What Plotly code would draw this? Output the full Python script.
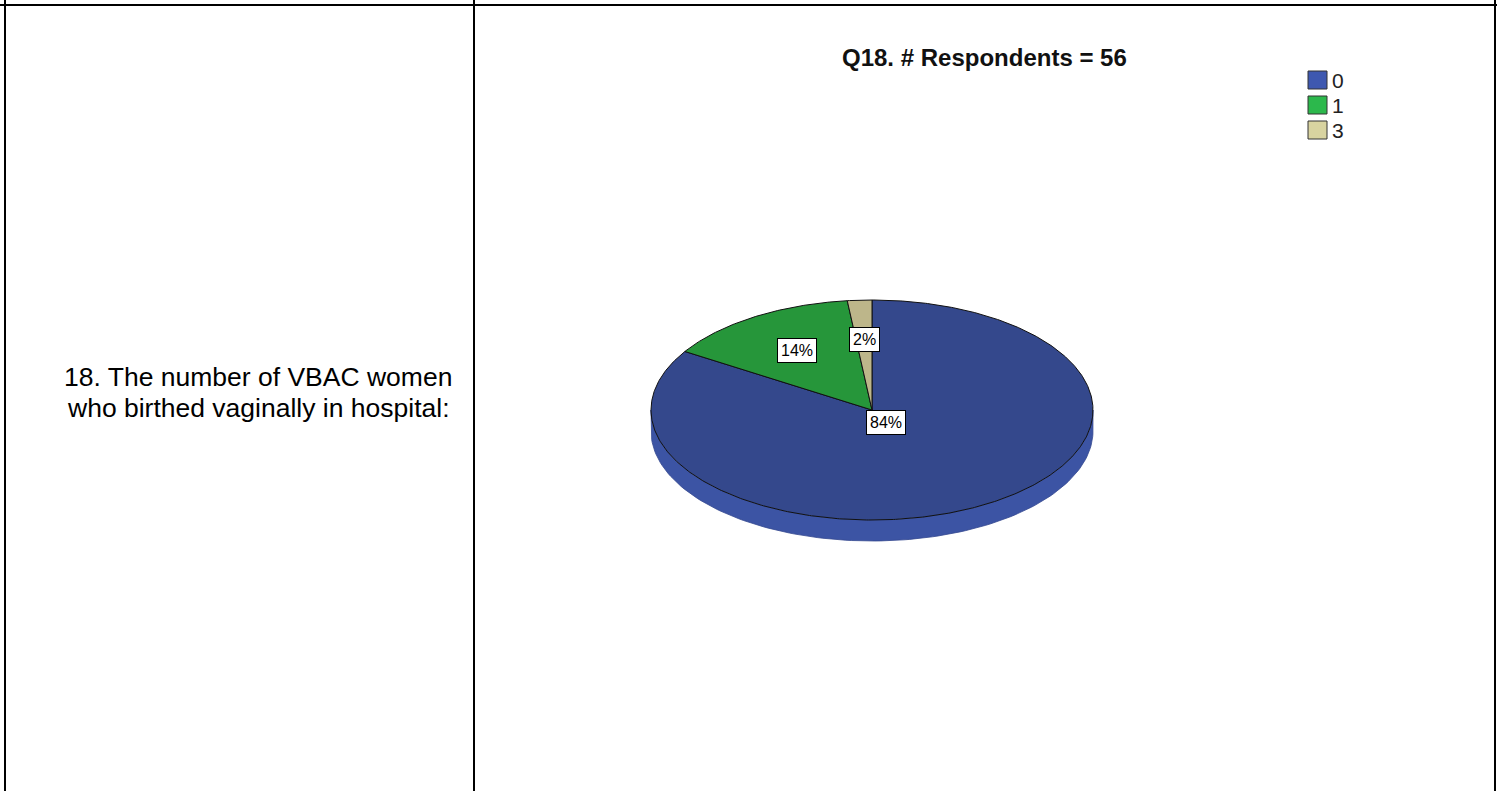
import numpy as np
import plotly.graph_objects as go

# ---- data ----
categories = ["0", "1", "3"]
counts = [47, 8, 1]
title_text = "Q18. # Respondents = 56"
question_lines = ["18. The number of VBAC women", "who birthed vaginally in hospital:"]

# ---- style ----
top_colors = ["#34488c", "#26963a", "#bdb68a"]
side_colors = ["#3c54a4", "#2a9f40", "#c6bf92"]
legend_colors = ["#3e58b0", "#2cb84c", "#d8d3a0"]
label_radius = [0.13, 0.64, 0.64]

W, H = 1497, 791
CX, CY, RX, RY, DEPTH = 872, 410, 221, 110, 21

total = sum(counts)
fracs = [c / total for c in counts]


def pt(t_deg, r=1.0, dy=0.0):
    t = np.radians(t_deg)
    return CX + RX * r * np.sin(t), CY - RY * r * np.cos(t) + dy


fig = go.Figure()

# slice angle ranges (clockwise from top)
ranges = []
start = 0.0
for f in fracs:
    ranges.append((start, start + 360 * f))
    start += 360 * f

# side (rim) of the 3-D pie: visible for angles 90..270
for (a0, a1), sc in zip(ranges, side_colors):
    lo, hi = max(a0, 90), min(a1, 270)
    if hi <= lo:
        continue
    ts = np.linspace(lo, hi, 120)
    xs_top, ys_top = pt(ts)
    xs_bot, ys_bot = pt(ts[::-1], dy=DEPTH)
    fig.add_trace(go.Scatter(
        x=np.concatenate([xs_top, xs_bot, xs_top[:1]]),
        y=np.concatenate([ys_top, ys_bot, ys_top[:1]]),
        mode="lines", fill="toself", fillcolor=sc,
        line=dict(color="#33478f", width=0.8),
        hoverinfo="skip", showlegend=False))

# top faces
for (a0, a1), c, cat in zip(ranges, top_colors, categories):
    ts = np.linspace(a0, a1, max(4, int((a1 - a0) * 2)))
    xs, ys = pt(ts)
    fig.add_trace(go.Scatter(
        x=np.concatenate([[CX], xs, [CX]]),
        y=np.concatenate([[CY], ys, [CY]]),
        mode="lines", fill="toself", fillcolor=c,
        line=dict(color="#111111", width=1),
        name=cat, hoverinfo="skip", showlegend=False))

annotations = []
# percentage labels
for (a0, a1), f, r in zip(ranges, fracs, label_radius):
    mx, my = pt((a0 + a1) / 2, r=r)
    annotations.append(dict(
        x=mx, y=my, xref="x", yref="y", text=f"{round(100 * f)}%",
        showarrow=False, font=dict(family="Arial", size=16, color="#000"),
        bgcolor="white", bordercolor="black", borderwidth=1, borderpad=3))

# title
annotations.append(dict(
    x=984, y=57, xref="x", yref="y", text=f"<b>{title_text}</b>",
    showarrow=False, font=dict(family="Arial", size=24, color="#111")))

# question text
for i, line in enumerate(question_lines):
    annotations.append(dict(
        x=258, y=377 + 31 * i, xref="x", yref="y", text=line,
        showarrow=False, font=dict(family="Arial", size=26.5, color="#000")))

shapes = []
# legend
for i, (cat, lc) in enumerate(zip(categories, legend_colors)):
    y0 = 71 + 25 * i
    shapes.append(dict(type="rect", xref="x", yref="y", x0=1308, x1=1327,
                       y0=y0, y1=y0 + 18, fillcolor=lc,
                       line=dict(color="#333", width=1)))
    annotations.append(dict(
        x=1330, y=y0 + 9, xref="x", yref="y", text=cat, xanchor="left",
        showarrow=False, font=dict(family="Arial", size=21, color="#222")))

# table borders
for (x0, y0, x1, y1) in [(0, 5, W, 5), (5, 0, 5, H), (474, 0, 474, H), (1495, 0, 1495, H)]:
    shapes.append(dict(type="line", xref="x", yref="y", x0=x0, y0=y0, x1=x1, y1=y1,
                       line=dict(color="black", width=2)))

fig.update_layout(
    width=W, height=H, margin=dict(l=0, r=0, t=0, b=0),
    paper_bgcolor="white", plot_bgcolor="white",
    xaxis=dict(range=[0, W], visible=False, fixedrange=True),
    yaxis=dict(range=[H, 0], visible=False, fixedrange=True),
    annotations=annotations, shapes=shapes, showlegend=False,
)

fig.write_html("out.html", config={"displayModeBar": False},
               post_script="document.body.style.margin='0';")
